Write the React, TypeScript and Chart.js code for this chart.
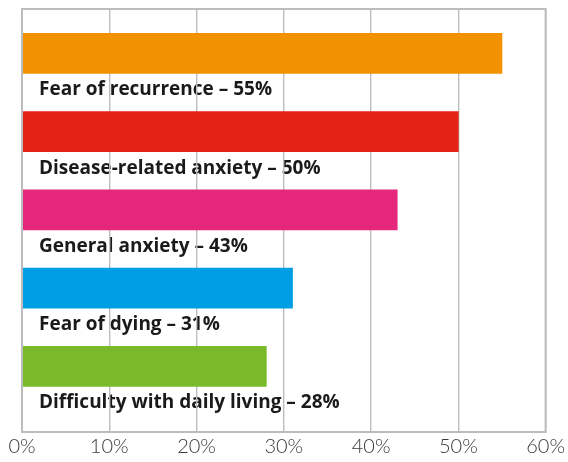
import React, { useEffect, useRef } from "react";
import { Chart, registerables } from "chart.js";

Chart.register(...registerables);

const categories = [
  "Fear of recurrence – 55%",
  "Disease-related anxiety – 50%",
  "General anxiety – 43%",
  "Fear of dying – 31%",
  "Difficulty with daily living – 28%",
];
const values = [55, 50, 43, 31, 28];
const colors = ["#f39200", "#e42316", "#e6287d", "#009fe3", "#7ab929"];
const xTicks = [0, 10, 20, 30, 40, 50, 60];

const labelPlugin = {
  id: "belowLabels",
  beforeDraw(chart: any) {
    const ctx = chart.ctx;
    const meta = chart.getDatasetMeta(0);
    const area = chart.chartArea;
    ctx.save();
    ctx.fillStyle = "#1a1a1a";
    ctx.font = "bold 19px 'Open Sans'";
    ctx.textBaseline = "alphabetic";
    ctx.textAlign = "left";
    meta.data.forEach((bar: any, i: number) => {
      const bottom = bar.y + bar.height / 2;
      ctx.fillText(categories[i], area.left + 17, bottom + 22);
    });
    ctx.restore();
  },
  afterDraw(chart: any) {
    const ctx = chart.ctx;
    const a = chart.chartArea;
    ctx.save();
    ctx.strokeStyle = "#bcbcbc";
    ctx.lineWidth = 2;
    ctx.strokeRect(a.left, a.top, a.right - a.left, a.bottom - a.top);
    ctx.restore();
  },
};

export default function App() {
  const ref = useRef<HTMLCanvasElement>(null);
  useEffect(() => {
    if (!ref.current) return;
    const chart = new Chart(ref.current, {
      type: "bar",
      data: {
        datasets: [
          {
            data: values.map((v, i) => ({ x: v, y: i })),
            backgroundColor: colors,
            barThickness: 40,
          },
        ],
      },
      options: {
        indexAxis: "y",
        animation: false,
        responsive: true,
        maintainAspectRatio: false,
        layout: { padding: { left: 22, right: 20, top: 9, bottom: 0 } },
        plugins: { legend: { display: false }, tooltip: { enabled: false } },
        scales: {
          x: {
            type: "linear",
            min: 0,
            max: 60,
            afterBuildTicks: (s: any) => {
              s.ticks = xTicks.map((v) => ({ value: v }));
            },
            grid: { color: "#bdbdbd", lineWidth: 1.4, drawTicks: false },
            border: { display: false },
            ticks: {
              padding: 3,
              color: "#3a3a3a",
              font: { family: "Lato", size: 20, weight: 300 },
              callback: (v: any) => v + "%",
            },
          },
          y: {
            type: "linear",
            reverse: true,
            offset: false,
            min: -0.568,
            max: 4.838,
            display: false,
          },
        },
      },
      plugins: [labelPlugin],
    });
    return () => chart.destroy();
  }, []);
  return (
    <div style={{ position: "fixed", left: 0, top: 0, width: 568, height: 462 }}>
      <canvas ref={ref} />
    </div>
  );
}
